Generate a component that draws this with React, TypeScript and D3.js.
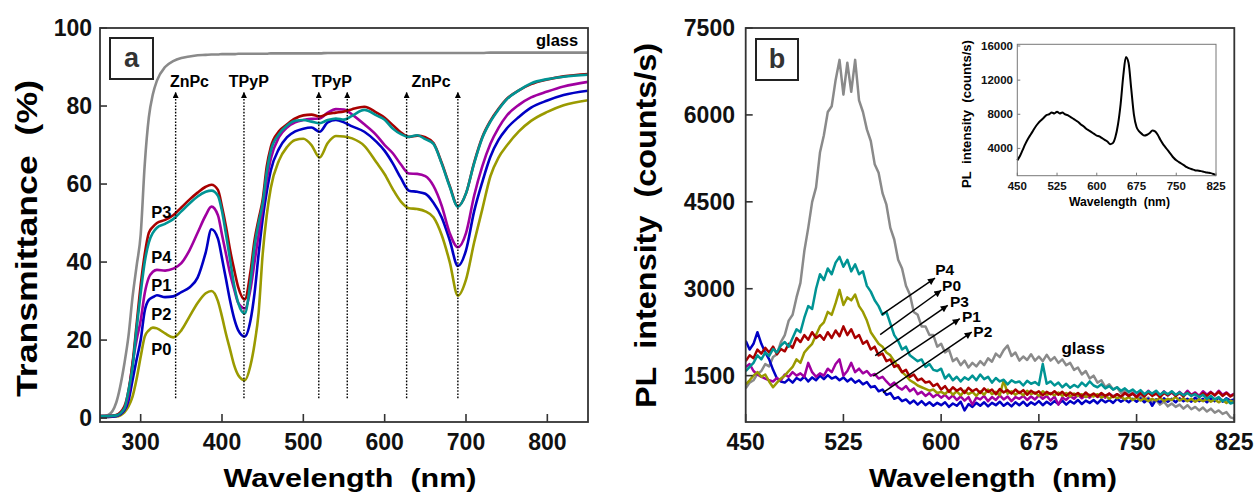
import React from 'react';
import * as d3 from 'd3';

const W = 1255;
const H = 496;
const FONT = '"Liberation Sans", Arial, Helvetica, sans-serif';
const SP = '\u00A0';

// ---------- Panel a: transmittance ----------
const uvWavelengths = [
  250, 260, 270, 280, 285, 290, 295, 300, 305, 310,
  315, 320, 330, 340, 350, 360, 370, 380, 387, 395,
  400, 405, 410, 415, 420, 428, 435, 440, 445, 450,
  455, 460, 470, 480, 490, 500, 510, 520, 530, 540,
  550, 560, 575, 590, 600, 610, 620, 630, 640, 650,
  660, 670, 680, 690, 700, 710, 720, 730, 740, 750,
  765, 780, 800, 820, 850,
];
const uvGlass = [
  0.5, 0.8, 4, 14, 21, 31, 39, 47, 65, 77,
  83, 86.5, 90, 91.5, 92.3, 92.7, 93, 93.1, 93.2, 93.2,
  93.3, 93.3, 93.3, 93.3, 93.4, 93.4, 93.4, 93.4, 93.4, 93.4,
  93.4, 93.5, 93.5, 93.5, 93.5, 93.5, 93.5, 93.5, 93.6, 93.6,
  93.6, 93.6, 93.6, 93.6, 93.6, 93.6, 93.6, 93.6, 93.6, 93.6,
  93.6, 93.6, 93.6, 93.6, 93.6, 93.6, 93.6, 93.7, 93.7, 93.7,
  93.7, 93.7, 93.7, 93.7, 93.7,
];
const uvP3 = [
  0.5, 0.5, 0.8, 3, 7, 14, 24, 34, 42, 47.5,
  49, 50, 50.8, 52, 54, 56, 57.8, 59.3, 59.8, 58.5,
  54.2, 49, 43, 38, 33.5, 30.4, 37.5, 45.6, 51, 56,
  64.5, 69.5, 73.5, 75.3, 76.8, 77.6, 77.8, 77.3, 78, 78.3,
  78.6, 79.2, 79.8, 78.3, 77, 75.1, 73.2, 72.1, 72.4, 72,
  70.5, 65.5, 59.5, 54.3, 57.6, 65.5, 72, 76.2, 79.3, 81.8,
  84, 85.6, 86.8, 87.6, 88.2,
];
const uvP4 = [
  0.5, 0.5, 0.7, 2.5, 7, 13, 23, 32, 40, 45,
  47.5, 48.8, 49.8, 51, 53, 55, 56.8, 58, 58.3, 57,
  53, 47, 40.5, 34, 29.5, 26.8, 35, 44, 50, 55,
  63, 68.5, 72.8, 75, 76.2, 76.4, 76, 75.6, 76.4, 76.8,
  76.5, 77.5, 79, 77.6, 76.5, 74.2, 72.8, 72.1, 72.5, 71.5,
  70.3, 65.3, 59.3, 54.2, 57.6, 65.3, 71.8, 76, 79.1, 81.7,
  84, 85.8, 86.9, 87.5, 88,
];
const uvP1 = [
  0.5, 0.5, 0.7, 2.5, 6, 14, 20, 25, 32, 36,
  37.5, 38, 37.8, 38.3, 39.7, 43, 47.5, 52, 54.2, 52,
  47, 42, 37, 33, 29.5, 28.1, 33, 40, 47, 54,
  61, 66.5, 72, 74.5, 75.8, 76.4, 76.7, 76.8, 78.3, 79.2,
  79.1, 77.8, 75.3, 72.5, 70, 67.9, 65, 62.7, 62.6, 62,
  59.5, 54.5, 47.4, 43.8, 47.4, 57, 64.5, 70.3, 74.4, 77.5,
  80.3, 82.2, 83.7, 85, 86.2,
];
const uvP2 = [
  0.3, 0.3, 0.5, 2, 4.5, 9.7, 15, 20, 27.5, 30.3,
  31, 31.5, 31, 31.2, 32.3, 33.5, 36, 42.5, 48.4, 46,
  41, 35.5, 30, 25.5, 22.5, 20.9, 25, 32, 42, 51,
  58, 63.5, 69, 72, 73.5, 74.2, 74.5, 73.4, 75.8, 76.4,
  75.8, 74.8, 73.4, 70.8, 68.5, 65.3, 61.5, 58.3, 58, 57.5,
  55.2, 51.5, 45.6, 39, 43, 53, 60.5, 67, 71.3, 74.2,
  77.2, 79.6, 81.4, 82.8, 83.9,
];
const uvP0 = [
  0.3, 0.3, 0.4, 1.5, 3, 5.5, 10, 15.7, 20.9, 22.5,
  23.2, 23, 21.7, 20.7, 22.5, 26, 29.5, 32, 32.6, 30,
  26, 21.5, 17.5, 13.5, 11, 9.7, 13.5, 19, 27, 42,
  52, 59, 66, 69.5, 71.3, 71.6, 70, 66.8, 70.5, 72.3,
  72.2, 71.7, 69.8, 65.5, 62.5, 58.7, 55.5, 53.8, 53.6, 53,
  51.5, 47, 40, 31.4, 35.5, 45, 53.5, 62, 66.8, 69.8,
  73.5, 76.2, 78.5, 80.2, 81.5,
];
const uvTicksX = [300, 400, 500, 600, 700, 800];
const uvTicksY = [0, 20, 40, 60, 80, 100];
const bandMarkers = [343, 427, 519, 554, 627, 690];
const bandLabels = ['ZnPc', 'TPyP', 'TPyP', 'ZnPc'];
const bandLabelPos = [360, 433, 535, 657];
const uvSampleNames = ['P3', 'P4', 'P1', 'P2', 'P0'];
const uvSampleLabelY = [52.9, 41.4, 34.1, 26.7, 17.7];

// ---------- Panel b: PL spectra (450..825 nm, every 3 nm) ----------
const plWavelengths = d3.range(450, 826, 3);
const plGlass = [
  1280, 1380, 1420, 1530, 1580, 1700, 1660, 1820, 1870, 2080,
  2200, 2450, 2550, 2850, 3100, 3650, 4050, 4500, 4750, 5350,
  5650, 6050, 6150, 6600, 6950, 6350, 6900, 6400, 6950, 6250,
  6050, 5750, 5550, 5150, 5000, 4650, 4450, 4050, 3850, 3500,
  3350, 3050, 2900, 2600, 2550, 2350, 2350, 2200, 2200, 2000,
  2050, 1900, 1950, 1750, 1800, 1680, 1760, 1640, 1720, 1660,
  1750, 1680, 1800, 1740, 1880, 1820, 1940, 2020, 1840, 1900,
  1760, 1830, 1770, 1870, 1760, 1830, 1750, 1860, 1760, 1820,
  1720, 1780, 1680, 1720, 1600, 1640, 1520, 1580, 1450, 1500,
  1380, 1420, 1300, 1350, 1260, 1300, 1200, 1240, 1160, 1210,
  1120, 1160, 1080, 1120, 1040, 1080, 1000, 1050, 970, 1020,
  960, 1000, 930, 990, 920, 960, 900, 950, 880, 930,
  860, 900, 840, 870, 780, 760,
];
const plP4 = [
  1580, 1650, 1720, 1850, 1780, 1900, 1840, 1960, 1900, 2020,
  2080, 2000, 2150, 2300, 2250, 2500, 2700, 2650, 3000, 3250,
  3150, 3350, 3250, 3450, 3550, 3380, 3500, 3300, 3420, 3250,
  3300, 3050, 2950, 2800, 2700, 2550, 2600, 2400, 2200, 2100,
  1950, 2000, 1850, 1800, 1750, 1780, 1650, 1700, 1600, 1580,
  1620, 1450, 1520, 1420, 1480, 1400, 1470, 1430, 1500, 1420,
  1520, 1440, 1480, 1380, 1460, 1400, 1430, 1350, 1420, 1380,
  1400, 1330, 1410, 1360, 1390, 1340, 1700, 1360, 1400, 1330,
  1380, 1300, 1360, 1290, 1340, 1300, 1380, 1320, 1400, 1330,
  1300, 1350, 1280, 1320, 1260, 1300, 1240, 1280, 1220, 1260,
  1200, 1250, 1180, 1230, 1190, 1240, 1170, 1220, 1180, 1230,
  1170, 1210, 1160, 1200, 1150, 1180, 1130, 1170, 1100, 1150,
  1090, 1130, 1060, 1100, 1020, 1040,
];
const plP0 = [
  1350, 1420, 1500, 1560, 1480, 1520, 1400, 1300, 1380, 1450,
  1500, 1580, 1650, 1780, 1720, 1900, 1980, 2050, 2200, 2350,
  2420, 2600, 2550, 2750, 2980, 2720, 2850, 2800, 2900, 2700,
  2600, 2450, 2250, 2150, 2050, 2000, 1900, 1850, 1750, 1650,
  1560, 1500, 1420, 1380, 1330, 1300, 1270, 1240, 1260, 1200,
  1220, 1180, 1250, 1170, 1230, 1160, 1240, 1180, 1220, 1150,
  1230, 1170, 1260, 1180, 1220, 1160, 1420, 1190, 1230, 1170,
  1220, 1160, 1240, 1180, 1210, 1150, 1230, 1170, 1200, 1160,
  1210, 1150, 1200, 1140, 1190, 1150, 1180, 1130, 1170, 1140,
  1180, 1120, 1160, 1100, 1150, 1110, 1140, 1090, 1130, 1080,
  1120, 1070, 1110, 1060, 1100, 1070, 1120, 1060, 1100, 1080,
  1130, 1070, 1110, 1060, 1100, 1050, 1090, 1060, 1100, 1050,
  1090, 1040, 1080, 1030, 1070, 1040,
];
const plP3 = [
  1750, 1850, 1800, 1950, 1880, 1980, 1900, 2000, 1870, 1960,
  1920, 2050, 1980, 2150, 2080, 2200, 2120, 2250, 2150, 2200,
  2120, 2250, 2150, 2280, 2180, 2350, 2200, 2300, 2150, 2200,
  2050, 2100, 1950, 2000, 1850, 1880, 1750, 1780, 1650, 1680,
  1560, 1600, 1480, 1520, 1420, 1450, 1380, 1400, 1320, 1360,
  1260, 1320, 1220, 1300, 1240, 1280, 1200, 1290, 1230, 1270,
  1200, 1280, 1220, 1260, 1180, 1270, 1210, 1250, 1190, 1260,
  1200, 1250, 1170, 1240, 1190, 1230, 1160, 1220, 1180, 1230,
  1170, 1220, 1150, 1210, 1160, 1200, 1140, 1210, 1150, 1190,
  1140, 1200, 1150, 1190, 1130, 1180, 1140, 1200, 1150, 1190,
  1130, 1200, 1140, 1210, 1150, 1190, 1130, 1200, 1160, 1220,
  1150, 1200, 1140, 1210, 1160, 1190, 1130, 1200, 1150, 1210,
  1160, 1220, 1150, 1200, 1140, 1180,
];
const plP1 = [
  1650, 1700, 1580, 1520, 1480, 1450, 1420, 1400, 1460, 1420,
  1520, 1480, 1560, 1500, 1540, 1480, 1720, 1560, 1480, 1540,
  1500, 1620, 1560, 1700, 1780, 1500, 1580, 1720, 1560, 1620,
  1540, 1580, 1500, 1530, 1450, 1480, 1400, 1330, 1380, 1300,
  1260, 1320, 1230, 1280, 1180, 1220, 1150, 1200, 1130, 1180,
  1120, 1170, 1100, 1160, 1080, 1140, 1070, 1130, 1000, 1120,
  1090, 1150, 1060, 1130, 1080, 1160, 1090, 1140, 1060, 1130,
  1100, 1150, 1080, 1140, 1090, 1160, 1100, 1150, 1070, 1140,
  1000, 1120, 1080, 1150, 1100, 1170, 1110, 1160, 1120, 1180,
  1130, 1170, 1120, 1190, 1140, 1180, 1120, 1200, 1150, 1190,
  1140, 1210, 1160, 1240, 1170, 1200, 1150, 1230, 1160, 1210,
  1150, 1220, 1160, 1240, 1170, 1210, 1150, 1230, 1170, 1220,
  1160, 1240, 1170, 1210, 1150, 1190,
];
const plP2 = [
  2100, 1950, 2050, 2250, 2050, 1900, 1780, 1600, 1450, 1400,
  1380, 1440, 1380, 1460, 1420, 1480, 1400, 1470, 1420, 1500,
  1440, 1510, 1450, 1480, 1420, 1470, 1400, 1450, 1380, 1420,
  1350, 1390, 1300, 1320, 1230, 1260, 1170, 1200, 1100, 1130,
  1060, 1090, 1020, 1070, 1000, 1060, 990, 1040, 980, 1030,
  990, 1040, 960, 1020, 980, 1050, 900, 1010, 960, 1030,
  980, 1040, 970, 1030, 990, 1050, 980, 1030, 970, 1040,
  990, 1050, 980, 1040, 1000, 1060, 990, 1050, 1000, 1060,
  1010, 1070, 1000, 1060, 1020, 1080, 1010, 1070, 1030, 1080,
  1020, 1090, 1040, 1080, 1030, 1100, 1050, 1090, 1040, 1100,
  1050, 1110, 1040, 1100, 980, 1090, 1040, 1110, 1050, 1100,
  1040, 1110, 1060, 1100, 1050, 1120, 1060, 1100, 1040, 1110,
  1060, 1120, 1050, 1110, 1070, 1090,
];
const plTicksX = [450, 525, 600, 675, 750, 825];
const plTicksY = [1500, 3000, 4500, 6000, 7500];
const plArrowNames = ['P4', 'P0', 'P3', 'P1', 'P2'];
const plArrowStart = [[554.4, 2552], [553.2, 2207], [549.4, 1845], [547.9, 1493], [555.4, 1207]];
const plArrowEnd = [[595.3, 3184], [600.1, 2974], [605.1, 2714], [614.3, 2483], [623.5, 2252]];
const plArrowLabel = [[595.5, 3327], [600.7, 3052], [606.8, 2781], [616, 2522], [624.7, 2259]];

// ---------- Inset: PL of hybrid (450..825 nm, every 5 nm) ----------
const insetWavelengths = d3.range(450, 826, 5);
const insetPL = [
  2600, 3100, 3800, 4500, 5100, 5600, 6100, 6600, 7000, 7300,
  7600, 7900, 8000, 8200, 8100, 8300, 8100, 8200, 8000, 7900,
  7700, 7500, 7300, 7100, 6800, 6600, 6300, 6100, 5900, 5700,
  5500, 5400, 5200, 5000, 4800, 4500, 4600, 5300, 6800, 9200,
  12500, 14700, 14000, 11000, 8000, 6500, 6000, 5700, 5500, 5600,
  5800, 6100, 6000, 5600, 5000, 4500, 4100, 3700, 3300, 2900,
  2600, 2400, 2200, 2000, 1800, 1650, 1550, 1450, 1400, 1350,
  1300, 1200, 1150, 1100, 1000, 850,
];
const insetTicksX = [450, 525, 600, 675, 750, 825];
const insetTicksY = [4000, 8000, 12000, 16000];

const C = {
  glass: '#8a8a8a',
  red: '#a80000',
  teal: '#009494',
  magenta: '#a000a0',
  blue: '#0000c4',
  olive: '#9a9a00',
};

export default function App() {
  const xa = d3.scaleLinear().domain([250, 850]).range([100, 588]);
  const ya = d3.scaleLinear().domain([-1, 100]).range([422, 28]);
  const xb = d3.scaleLinear().domain([450, 825]).range([745.7, 1234.3]);
  const yb = d3.scaleLinear().domain([700, 7500]).range([422, 28]);
  const xi = d3.scaleLinear().domain([450, 825]).range([1017.3, 1216]);
  const yi = d3.scaleLinear().domain([800, 16200]).range([175.7, 44.3]);

  const lineA = (vals: number[]) =>
    d3.line<number>().x((_, i) => xa(uvWavelengths[i])).y((d) => ya(d)).curve(d3.curveMonotoneX)(vals) as string;
  const lineB = (vals: number[]) =>
    d3.line<number>().x((_, i) => xb(plWavelengths[i])).y((d) => yb(d))(vals) as string;
  const lineI = d3.line<number>().x((_, i) => xi(insetWavelengths[i])).y((d) => yi(d)).curve(d3.curveMonotoneX)(insetPL) as string;

  const uvSeries: [number[], string][] = [
    [uvGlass, C.glass],
    [uvP0, C.olive],
    [uvP2, C.blue],
    [uvP1, C.magenta],
    [uvP3, C.red],
    [uvP4, C.teal],
  ];
  const plSeries: [number[], string][] = [
    [plGlass, C.glass],
    [plP2, C.blue],
    [plP1, C.magenta],
    [plP0, C.olive],
    [plP3, C.red],
    [plP4, C.teal],
  ];

  const tickFont = { fontFamily: FONT, fontWeight: 700, fontSize: 23, fill: '#111' } as const;
  const wl = `Wavelength${SP}${SP}(nm)`;
  const pl = `PL${SP}${SP}intensity${SP}${SP}(counts/s)`;

  return (
    <svg width={W} height={H} style={{ position: 'absolute', left: 0, top: 0, background: '#fff' }}>
      <defs>
        <marker id="ahA" viewBox="0 0 10 10" refX="10" refY="5" markerUnits="userSpaceOnUse" markerWidth="10" markerHeight="6" orient="auto">
          <path d="M0,0 L10,5 L0,10 z" fill="#000" />
        </marker>
        <marker id="ahB" viewBox="0 0 10 10" refX="10" refY="5" markerUnits="userSpaceOnUse" markerWidth="11" markerHeight="7" orient="auto">
          <path d="M0,0 L10,5 L0,10 z" fill="#000" />
        </marker>
        <clipPath id="clipA"><rect x={100} y={28} width={488} height={394} /></clipPath>
        <clipPath id="clipB"><rect x={745.7} y={28} width={488.6} height={394} /></clipPath>
      </defs>

      {/* ================= Panel a ================= */}
      <g clipPath="url(#clipA)">
        {uvSeries.map(([vals, col], k) => (
          <path key={k} d={lineA(vals)} fill="none" stroke={col} strokeWidth={2.6} strokeLinejoin="round" />
        ))}
      </g>
      {bandMarkers.map((w, k) => (
        <line key={k} x1={xa(w)} x2={xa(w)} y1={ya(5.1)} y2={ya(83.6)} stroke="#000" strokeWidth={1.4}
          strokeDasharray="1.6,1.6" markerEnd="url(#ahA)" />
      ))}
      {bandLabels.map((t, k) => (
        <text key={k} x={xa(bandLabelPos[k])} y={ya(84.8)} textAnchor="middle" fontFamily={FONT} fontWeight={700} fontSize={16}>{t}</text>
      ))}
      {uvSampleNames.map((t, k) => (
        <text key={k} x={xa(325.5)} y={ya(uvSampleLabelY[k]) + 6} textAnchor="middle" fontFamily={FONT} fontWeight={700} fontSize={16.5}>{t}</text>
      ))}
      <text x={xa(812)} y={ya(97) + 6} textAnchor="middle" fontFamily={FONT} fontWeight={700} fontSize={16.5}>glass</text>

      <rect x={100} y={28} width={488} height={394} fill="none" stroke="#333" strokeWidth={1.8} />
      {uvTicksX.map((t) => (
        <g key={t}>
          <line x1={xa(t)} x2={xa(t)} y1={422} y2={414} stroke="#333" strokeWidth={1.6} />
          <text x={xa(t)} y={450} textAnchor="middle" {...tickFont}>{t}</text>
        </g>
      ))}
      {uvTicksY.map((t) => (
        <g key={t}>
          <line x1={100} x2={107} y1={ya(t)} y2={ya(t)} stroke="#333" strokeWidth={1.6} />
          <text x={92} y={ya(t) + 8} textAnchor="end" {...tickFont}>{t}</text>
        </g>
      ))}
      <rect x={110} y={38} width={43} height={41} fill="#fff" stroke="#222" strokeWidth={2} />
      <text x={131.5} y={67} textAnchor="middle" fontFamily={FONT} fontWeight={700} fontSize={27} fill="#333">a</text>

      <text x={350} y={487} textAnchor="middle" fontFamily={FONT} fontWeight={700} fontSize={25}
        textLength={253} lengthAdjust="spacingAndGlyphs">{wl}</text>
      <text transform="translate(37,238.5) rotate(-90)" textAnchor="middle" fontFamily={FONT} fontWeight={700} fontSize={30}
        textLength={317} lengthAdjust="spacingAndGlyphs">{`Transmittance${SP}${SP}(%)`}</text>

      {/* ================= Panel b ================= */}
      <g clipPath="url(#clipB)">
        {plSeries.map(([vals, col], k) => (
          <path key={k} d={lineB(vals)} fill="none" stroke={col} strokeWidth={2.5} strokeLinejoin="round" />
        ))}
      </g>
      {plArrowNames.map((t, k) => (
        <g key={t}>
          <line x1={xb(plArrowStart[k][0])} y1={yb(plArrowStart[k][1])} x2={xb(plArrowEnd[k][0])} y2={yb(plArrowEnd[k][1])}
            stroke="#000" strokeWidth={1.5} markerEnd="url(#ahB)" />
          <text x={xb(plArrowLabel[k][0])} y={yb(plArrowLabel[k][1]) + 5.5} fontFamily={FONT} fontWeight={700} fontSize={15.5}>{t}</text>
        </g>
      ))}
      <text x={xb(709)} y={yb(1984) + 6} textAnchor="middle" fontFamily={FONT} fontWeight={700} fontSize={17}>glass</text>

      <rect x={745.7} y={28} width={488.6} height={394} fill="none" stroke="#333" strokeWidth={1.8} />
      {plTicksX.map((t) => (
        <g key={t}>
          <line x1={xb(t)} x2={xb(t)} y1={422} y2={414} stroke="#333" strokeWidth={1.6} />
          <text x={xb(t)} y={450} textAnchor="middle" {...tickFont}>{t}</text>
        </g>
      ))}
      {plTicksY.map((t) => (
        <g key={t}>
          <line x1={745.7} x2={752.7} y1={yb(t)} y2={yb(t)} stroke="#333" strokeWidth={1.6} />
          <text x={735} y={yb(t) + 8} textAnchor="end" {...tickFont}>{t}</text>
        </g>
      ))}
      <rect x={756} y={39} width={42} height={41} fill="#fff" stroke="#222" strokeWidth={2} />
      <text x={777} y={68} textAnchor="middle" fontFamily={FONT} fontWeight={700} fontSize={27} fill="#333">b</text>

      <text x={993} y={487} textAnchor="middle" fontFamily={FONT} fontWeight={700} fontSize={25}
        textLength={248} lengthAdjust="spacingAndGlyphs">{wl}</text>
      <text transform="translate(656,225.5) rotate(-90)" textAnchor="middle" fontFamily={FONT} fontWeight={700} fontSize={30}
        textLength={365} lengthAdjust="spacingAndGlyphs">{pl}</text>

      {/* ================= Inset ================= */}
      <path d={lineI} fill="none" stroke="#000" strokeWidth={2} strokeLinejoin="round" />
      <rect x={1017.3} y={44.3} width={198.7} height={131.4} fill="none" stroke="#777" strokeWidth={1} />
      {insetTicksX.map((t) => (
        <g key={t}>
          <line x1={xi(t)} x2={xi(t)} y1={175.7} y2={172.7} stroke="#777" strokeWidth={1} />
          <text x={xi(t)} y={190} textAnchor="middle" fontFamily={FONT} fontWeight={700} fontSize={11.5} fill="#111">{t}</text>
        </g>
      ))}
      {insetTicksY.map((t) => (
        <g key={t}>
          <line x1={1017.3} x2={1020.3} y1={yi(t)} y2={yi(t)} stroke="#777" strokeWidth={1} />
          <text x={1013} y={yi(t) + 4} textAnchor="end" fontFamily={FONT} fontWeight={700} fontSize={11.5} fill="#111">{t}</text>
        </g>
      ))}
      <text x={1119.5} y={206} textAnchor="middle" fontFamily={FONT} fontWeight={700} fontSize={12}
        textLength={101} lengthAdjust="spacingAndGlyphs">{wl}</text>
      <text transform="translate(971,114) rotate(-90)" textAnchor="middle" fontFamily={FONT} fontWeight={700} fontSize={12}
        textLength={148} lengthAdjust="spacingAndGlyphs">{pl}</text>
    </svg>
  );
}
